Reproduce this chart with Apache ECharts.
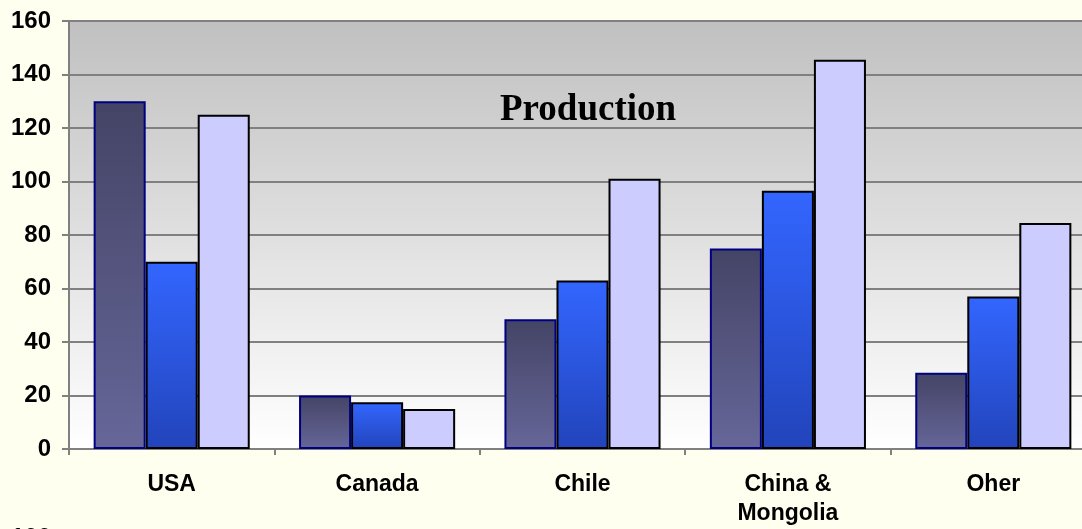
<!DOCTYPE html>
<html>
<head>
<meta charset="utf-8">
<script src="https://cdn.jsdelivr.net/npm/echarts@6/dist/echarts.min.js"></script>
<style>
html,body{margin:0;padding:0;background:#FFFFF0;overflow:hidden;}
#c{width:1100px;height:529px;}
</style>
</head>
<body>
<div id="c"></div>
<script>
var categories = ['USA', 'Canada', 'Chile', 'China &\nMongolia', 'Oher'];
var series1 = [130, 20, 48.5, 75, 28.5];
var series2 = [70, 17.5, 63, 96.5, 57];
var series3 = [125, 15, 101, 145.5, 84.5];
var yMin = 0, yMax = 160, yStep = 20;

var chart = echarts.init(document.getElementById('c'), null, {renderer: 'canvas'});
function grad(top, bottom) {
  return new echarts.graphic.LinearGradient(0, 0, 0, 1, [
    {offset: 0, color: top}, {offset: 1, color: bottom}
  ]);
}
chart.setOption({
  backgroundColor: '#FFFFF0',
  animation: false,
  title: {
    text: 'Production',
    left: 495, top: 87,
    textStyle: {fontFamily: '"Liberation Serif", "Times New Roman", serif', fontWeight: 'bold', fontSize: 37, color: '#000'}
  },
  grid: {
    left: 69, top: 21, width: 1027, height: 428,
    show: true,
    borderWidth: 0,
    backgroundColor: grad('#C0C0C0', '#FFFFFF')
  },
  xAxis: {
    type: 'category',
    data: categories,
    axisLine: {lineStyle: {color: '#808080', width: 2}},
    axisTick: {show: true, length: 6, lineStyle: {color: '#808080', width: 2}},
    axisLabel: {
      margin: 21, fontFamily: '"Liberation Sans", Arial, sans-serif', fontWeight: 'bold',
      fontSize: 23, color: '#000', lineHeight: 29
    }
  },
  yAxis: {
    type: 'value', min: yMin, max: yMax, interval: yStep,
    axisLine: {show: true, lineStyle: {color: '#808080', width: 2}},
    axisTick: {show: true, length: 7, lineStyle: {color: '#808080', width: 2}},
    splitLine: {show: true, lineStyle: {color: '#808080', width: 2}},
    axisLabel: {
      margin: 18, fontFamily: '"Liberation Sans", Arial, sans-serif', fontWeight: 'bold',
      fontSize: 24, color: '#000'
    }
  },
  series: [
    {type: 'bar', data: series1, barGap: '0%', barCategoryGap: '24%',
     itemStyle: {color: grad('#444466', '#666699'), borderColor: '#000080', borderWidth: 2}},
    {type: 'bar', data: series2,
     itemStyle: {color: grad('#3366FF', '#2244BB'), borderColor: '#000000', borderWidth: 2}},
    {type: 'bar', data: series3,
     itemStyle: {color: '#CCCCFF', borderColor: '#000000', borderWidth: 2}}
  ],
  graphic: [{
    type: 'text', left: 11, top: 526,
    style: {text: '100', font: 'bold 24px "Liberation Sans", Arial, sans-serif', fill: '#000'}
  }]
});
</script>
</body>
</html>
